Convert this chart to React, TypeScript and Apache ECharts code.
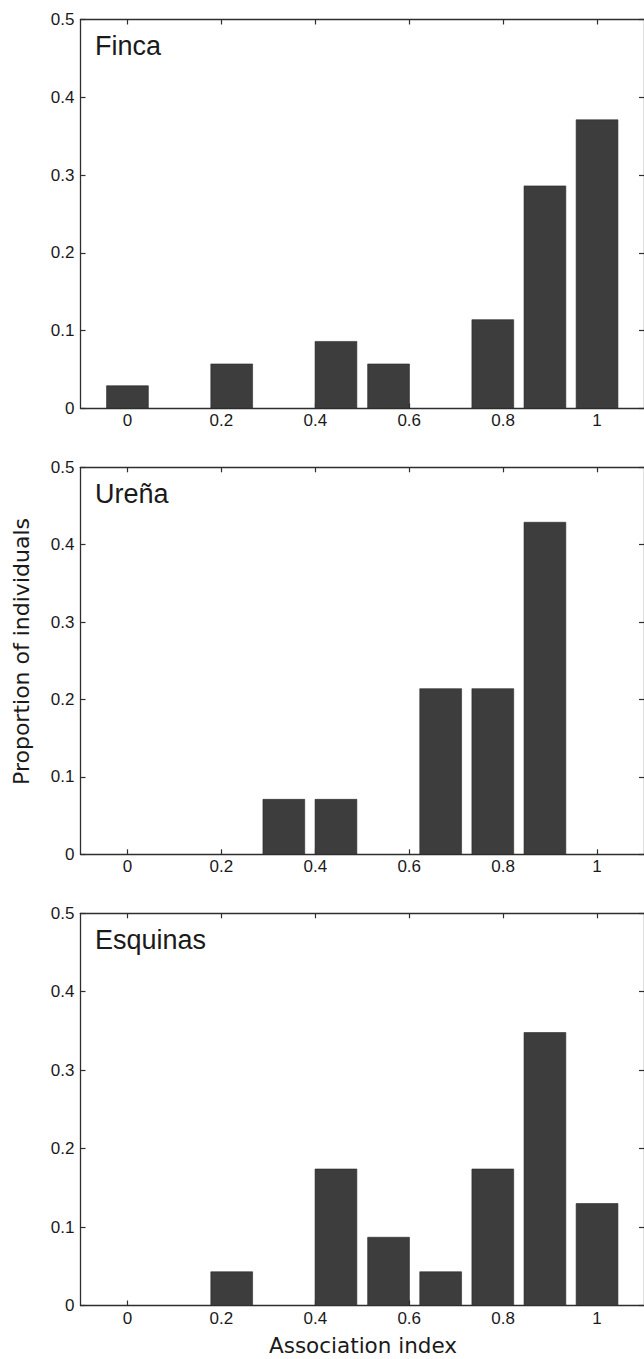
import React, { useEffect, useRef } from "react";
import * as echarts from "echarts";

// Bin centres of the association index histogram (ten bins)
const binCenters = [0, 0.111, 0.222, 0.333, 0.444, 0.556, 0.667, 0.778, 0.889, 1.0];

// Proportion of individuals per bin
const finca = [0.029, 0, 0.057, 0, 0.086, 0.057, 0, 0.114, 0.286, 0.371];
const urena = [0, 0, 0, 0.071, 0.071, 0, 0.214, 0.214, 0.429, 0];
const esquinas = [0, 0, 0.043, 0, 0.174, 0.087, 0.043, 0.174, 0.348, 0.13];

const panelNames = ["Finca", "Ureña", "Esquinas"];
const xTicks = [0, 0.2, 0.4, 0.6, 0.8, 1];
const xTickLabels = ["0", "0.2", "0.4", "0.6", "0.8", "1"];
const yTicks = [0, 0.1, 0.2, 0.3, 0.4, 0.5];
const yTickLabels = ["0", "0.1", "0.2", "0.3", "0.4", "0.5"];

const xLabel = "Association index";
const yLabel = "Proportion of individuals";

const W = 644;
const H = 1359;
const GRID_LEFT = 80.5;
const GRID_WIDTH = 566;
const panelTops = [19.5, 467.3, 913.3];
const panelBottoms = [408.3, 854.3, 1305.5];
const BAR_HALF = 0.0445;
const AXIS_COLOR = "#2e2e2e";
const TEXT_COLOR = "#1a1a1a";
const BAR_COLOR = "#3d3d3d";
const TICK_FONT = "Liberation Sans";

export default function App() {
  const ref = useRef<HTMLDivElement>(null);

  useEffect(() => {
    if (!ref.current) return;
    const chart = echarts.init(ref.current, undefined, { renderer: "svg" });
    const datasets = [finca, urena, esquinas];

    const grids: any[] = [];
    const xAxes: any[] = [];
    const yAxes: any[] = [];
    const series: any[] = [];
    const graphics: any[] = [];

    const axisLine = { show: true, onZero: false, lineStyle: { color: AXIS_COLOR, width: 1.3 } };
    const tick = {
      show: true,
      inside: true,
      length: 5,
      lineStyle: { color: AXIS_COLOR, width: 1.2 },
    };

    datasets.forEach((vals, i) => {
      grids.push({
        left: GRID_LEFT,
        top: panelTops[i],
        width: GRID_WIDTH,
        height: panelBottoms[i] - panelTops[i],
      });
      // bottom x axis
      xAxes.push({
        type: "value",
        gridIndex: i,
        position: "bottom",
        min: -0.1,
        max: 1.1,
        splitLine: { show: false },
        axisLine,
        axisTick: { ...tick, customValues: xTicks },
        axisLabel: {
          show: true,
          customValues: xTicks,
          margin: 4,
          fontFamily: TICK_FONT,
          fontSize: 17,
          color: TEXT_COLOR,
          formatter: (v: number) => {
            const k = xTicks.findIndex((t) => Math.abs(t - v) < 1e-6);
            return k >= 0 ? xTickLabels[k] : "";
          },
        },
      });
      // top x axis (box)
      xAxes.push({
        type: "value",
        gridIndex: i,
        position: "top",
        min: -0.1,
        max: 1.1,
        splitLine: { show: false },
        axisLine,
        axisTick: { ...tick, customValues: xTicks },
        axisLabel: { show: false },
      });
      // left y axis
      yAxes.push({
        type: "value",
        gridIndex: i,
        position: "left",
        min: 0,
        max: 0.5,
        interval: 0.1,
        splitLine: { show: false },
        axisLine,
        axisTick: tick,
        axisLabel: {
          show: true,
          margin: 6,
          fontFamily: TICK_FONT,
          fontSize: 17,
          color: TEXT_COLOR,
          formatter: (v: number) => {
            const k = yTicks.findIndex((t) => Math.abs(t - v) < 1e-6);
            return k >= 0 ? yTickLabels[k] : "";
          },
        },
      });
      // right y axis (box)
      yAxes.push({
        type: "value",
        gridIndex: i,
        position: "right",
        min: 0,
        max: 0.5,
        interval: 0.1,
        splitLine: { show: false },
        axisLine,
        axisTick: tick,
        axisLabel: { show: false },
      });

      const data = binCenters
        .map((c, k) => [c, vals[k]])
        .filter((d) => d[1] > 0);

      series.push({
        type: "custom",
        name: panelNames[i],
        xAxisIndex: i * 2,
        yAxisIndex: i * 2,
        z: 1,
        data,
        renderItem: (params: any, api: any) => {
          const x = api.value(0);
          const y = api.value(1);
          const p0 = api.coord([x - BAR_HALF, y]);
          const p1 = api.coord([x + BAR_HALF, 0]);
          return {
            type: "rect",
            shape: { x: p0[0], y: p0[1], width: p1[0] - p0[0], height: p1[1] - p0[1] },
            style: { fill: BAR_COLOR, stroke: "#2a2a2a", lineWidth: 0.6 },
          };
        },
      });

      graphics.push({
        type: "text",
        left: 95,
        top: panelTops[i] + 13,
        style: {
          text: panelNames[i],
          fontFamily: TICK_FONT,
          fontSize: 27,
          fill: TEXT_COLOR,
        },
      });
    });

    graphics.push({
      type: "text",
      x: 21.5,
      y: 651.5,
      rotation: Math.PI / 2,
      style: {
        text: yLabel,
        fontFamily: "DejaVu Sans",
        fontSize: 22,
        fill: TEXT_COLOR,
        align: "center",
        verticalAlign: "middle",
      },
    });
    graphics.push({
      type: "text",
      x: 363,
      y: 1345.5,
      style: {
        text: xLabel,
        fontFamily: "DejaVu Sans",
        fontSize: 21.5,
        fill: TEXT_COLOR,
        align: "center",
        verticalAlign: "middle",
      },
    });

    chart.setOption({
      animation: false,
      backgroundColor: "#ffffff",
      grid: grids,
      xAxis: xAxes,
      yAxis: yAxes,
      series,
      graphic: graphics,
    });

    return () => {
      chart.dispose();
    };
  }, []);

  return (
    <div
      ref={ref}
      style={{ position: "absolute", left: 0, top: 0, width: W, height: H }}
    />
  );
}
